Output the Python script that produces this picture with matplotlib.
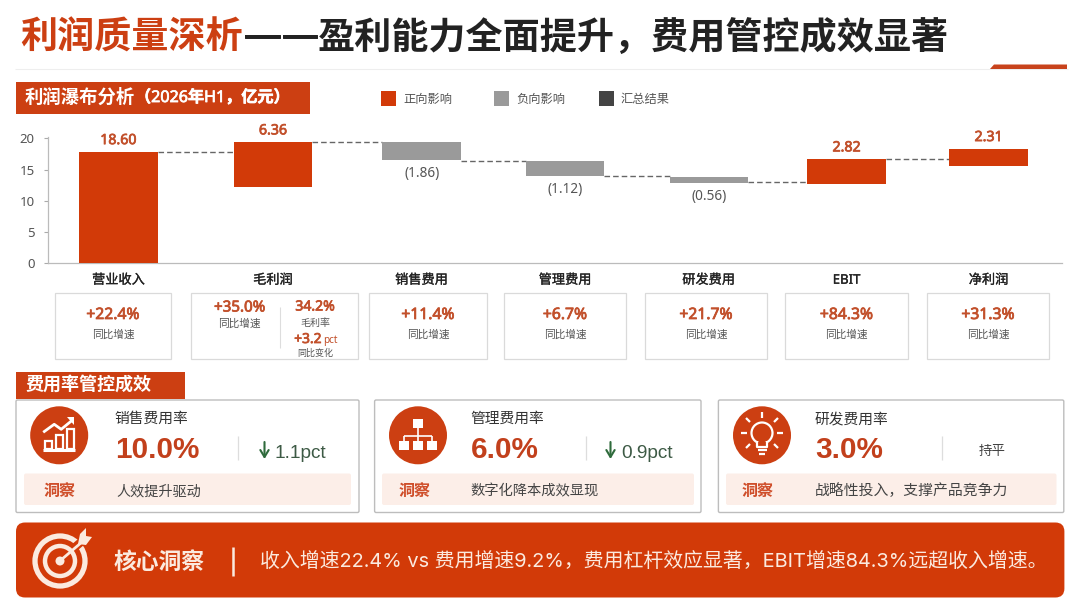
import matplotlib
matplotlib.use("Agg")
import matplotlib.pyplot as plt
import matplotlib.patheffects as pe
from matplotlib.patches import FancyBboxPatch, Rectangle, Circle, Polygon

plt.rcParams['font.family'] = ['Noto Sans', 'Noto Sans CJK SC', 'DejaVu Sans']

# ---------- data ----------
categories = ['营业收入', '毛利润', '销售费用', '管理费用', '研发费用', 'EBIT', '净利润']
bar_bottoms = [0, 12.16, 16.53, 14.02, 12.9, 12.64, 15.57]
bar_tops = [17.8, 19.36, 19.46, 16.32, 13.86, 16.64, 18.29]
bar_kinds = ['pos', 'pos', 'neg', 'neg', 'neg', 'pos', 'pos']
value_labels = ['18.60', '6.36', '(1.86)', '(1.12)', '(0.56)', '2.82', '2.31']
connector_levels = [17.85, 19.4, 16.4, 13.9, 12.96, 16.7]
y_ticks = [0, 5, 10, 15, 20]
legend_labels = ['正向影响', '负向影响', '汇总结果']
card_growth = ['+22.4%', '+35.0%', '+11.4%', '+6.7%', '+21.7%', '+84.3%', '+31.3%']
kpi_names = ['销售费用率', '管理费用率', '研发费用率']
kpi_values = ['10.0%', '6.0%', '3.0%']
kpi_changes = ['1.1pct', '0.9pct', '持平']
kpi_insights = ['人效提升驱动', '数字化降本成效显现', '战略性投入\uff0c支撑产品竞争力']

# ---------- palette ----------
RED = '#D23A08'
DRED = '#CC3F12'
TXT_RED = '#C2502B'
GRAY = '#9A9A9A'
DARK = '#444444'
INK = '#222222'
MID = '#555555'
PALE = '#FCEEE8'

W, H = 1080, 608
fig = plt.figure(figsize=(W / 100, H / 100), dpi=100, facecolor='white')
bg = fig.add_axes([0, 0, 1, 1])
bg.set_xlim(0, W)
bg.set_ylim(H, 0)
bg.axis('off')


def thicken(t, color, w=0.3):
    t.set_path_effects([pe.withStroke(linewidth=w, foreground=color)])
    return t


def T(x, y, s, size, color=INK, ha='left', weight='normal', family=None, **kw):
    if family is not None:
        kw['family'] = family
    return bg.text(x, y, s, fontsize=size, color=color, ha=ha, va='center', weight=weight, **kw)


def N(x, y, s, size, color=TXT_RED, ha='left', w=0.55):
    """Latin figures in a semi-bold look (the Latin family has one weight)."""
    return thicken(T(x, y, s, size, color=color, ha=ha), color, w)


def box(x0, y0, x1, y1, fc='white', ec='none', lw=1.0, r=0.0, z=1):
    if r > 0:
        p = FancyBboxPatch((x0, y0), x1 - x0, y1 - y0, boxstyle=f'round,pad=0,rounding_size={r}',
                           fc=fc, ec=ec, lw=lw, zorder=z)
    else:
        p = Rectangle((x0, y0), x1 - x0, y1 - y0, fc=fc, ec=ec, lw=lw, zorder=z)
    bg.add_patch(p)


def line(xs, ys, color='white', lw=1.0, z=3, **kw):
    bg.plot(xs, ys, color=color, lw=lw, zorder=z, solid_capstyle=kw.pop('cap', 'butt'), **kw)


# ---------- title ----------
T(20, 40, '利润质量深析', 26.7, color=DRED, weight='bold')
thicken(T(244, 37, '——', 26.7, color=INK, weight='bold'), INK, 0.7)
T(318, 40, '盈利能力全面提升\uff0c费用管控成效显著', 26.7, color=INK, weight='bold')
line([15, 1068], [68.5, 68.5], color='#EEEEEE', lw=0.8)
bg.add_patch(Polygon([[990, 69], [994, 64.5], [1067, 64.5], [1067, 69]], fc='#C8431C', ec='none', zorder=3))

# ---------- section header 1 ----------
box(16, 82, 310, 113.5, fc=DRED)
T(25, 98, '利润瀑布分析', 13.2, color='white', weight='bold')
thicken(T(135, 98, '\uff082026年H1\uff0c亿元\uff09', 11.6, color='white', weight='bold'), 'white', 0.5)

# ---------- waterfall ----------
ax = fig.add_axes([47.5 / W, 1 - 263.3 / H, (1062 - 47.5) / W, (263.3 - 137) / H])
ax.patch.set_alpha(0)
category_pos = [0, 1.065, 2.09, 3.08, 4.07, 5.02, 6.0]
bar_w = 0.54
kind_color = {'pos': RED, 'neg': GRAY}
heights = [t - b for t, b in zip(bar_tops, bar_bottoms)]
ax.bar(category_pos, heights, bottom=bar_bottoms, width=bar_w,
       color=[kind_color[k] for k in bar_kinds], zorder=3)
for i, lev in enumerate(connector_levels):
    ax.plot([category_pos[i] + bar_w / 2, category_pos[i + 1] - bar_w / 2], [lev, lev],
            color='#666666', lw=1.0, ls=(0, (4, 2.2)), zorder=2)
for i, lab in enumerate(value_labels):
    if bar_kinds[i] == 'pos':
        a = ax.annotate(lab, (category_pos[i], bar_tops[i]), xytext=(0, 8.2), textcoords='offset points',
                        ha='center', va='center', fontsize=10.2, color=TXT_RED)
        thicken(a, TXT_RED, 0.55)
    else:
        ax.annotate(lab, (category_pos[i], bar_bottoms[i]), xytext=(0, -9.7), textcoords='offset points',
                    ha='center', va='center', fontsize=9.8, color=MID)
ax.set_xlim(-0.49, 6.506)
ax.set_ylim(0, 20.2)
ax.set_yticks(y_ticks)
ax.set_xticks(category_pos)
ax.set_xticklabels(categories, fontsize=9.5, color=INK)
for lab in ax.get_xticklabels():
    thicken(lab, INK, 0.2)
ax.tick_params(axis='x', length=0, pad=7.5)
ax.tick_params(axis='y', length=3.2, width=0.8, color='#AAAAAA', labelcolor=MID, labelsize=9.5, pad=6)
for s in ('top', 'right'):
    ax.spines[s].set_visible(False)
for s in ('left', 'bottom'):
    ax.spines[s].set_color('#BBBBBB')
    ax.spines[s].set_linewidth(0.9)

# legend
legend_swatch_x = [381, 494, 599]
for sx, c, lab in zip(legend_swatch_x, (RED, GRAY, DARK), legend_labels):
    box(sx, 90.5, sx + 15, 105.5, fc=c)
    T(sx + 22, 99, lab, 8.8, color=MID)

# ---------- growth cards ----------
card_x = [(55, 171), (190.5, 357.5), (369, 487), (504, 626), (645, 767), (785, 908), (927, 1049)]
for i, (x0, x1) in enumerate(card_x):
    box(x0, 292.5, x1, 359, fc='white', ec='#DADADA', lw=0.9)
    if i == 1:
        continue
    c = (x0 + x1) / 2
    if i == 0:
        c = 113
    N(c, 315, card_growth[i], 11.3, ha='center')
    T(c, 335, '同比增速', 7.7, color=MID, ha='center')

N(239.7, 308, card_growth[1], 10.9, ha='center')
T(239.7, 324.5, '同比增速', 7.7, color=MID, ha='center')
line([280, 280], [307, 348], color='#DDDDDD', lw=0.8)
N(315, 307, '34.2%', 10.1, ha='center')
T(315, 323, '毛利率', 7.2, color=MID, ha='center')
N(294.2, 339.5, '+3.2', 9.9)
T(323.5, 340.5, 'pct', 7.2, color=TXT_RED)
T(315, 353, '同比变化', 6.5, color=MID, ha='center')

# ---------- section header 2 ----------
box(16, 372, 185, 398.5, fc=DRED)
T(25, 385, '费用率管控成效', 13, color='white', weight='bold')

# ---------- KPI cards ----------
kpi_box = [(16, 359), (374.6, 701), (718.4, 1063.8)]
icon_x = [59.2, 418, 762]
text_x = [114.7, 470.7, 814.8]
div_x = [238.3, 585.8, 942]
arrow_x = [260, 606, None]
strip_x = [(24, 351), (382, 694), (726, 1056.5)]
tag_x = [44, 398.8, 742]
insight_size = [10.2, 10.3, 10.7]
LIB = ['Liberation Sans', 'DejaVu Sans']
for i in range(3):
    box(kpi_box[i][0], 400, kpi_box[i][1], 512.5, fc='white', ec='#BDBDBD', lw=1.0, r=1.5)
    bg.add_patch(Circle((icon_x[i], 435.3), 29, fc=DRED, ec='none', zorder=2))
    T(text_x[i], 419.5, kpi_names[i], 10.6, color='#333333')
    T(text_x[i], 449.5, kpi_values[i], 21.4, color='#C2401C', weight='bold', family=LIB)
    line([div_x[i], div_x[i]], [435.5, 460], color='#DDDDDD', lw=0.9)
    if arrow_x[i] is not None:
        ax_x = arrow_x[i]
        bg.annotate('', xy=(ax_x + 4.5, 459), xytext=(ax_x + 4.5, 442), zorder=4,
                    arrowprops=dict(arrowstyle='->,head_width=0.3,head_length=0.5', color='#2F6B3C', lw=1.5,
                                    shrinkA=0, shrinkB=0))
        T(ax_x + 15, 453.5, kpi_changes[i], 13.7, color='#3D5A45', family=LIB)
    else:
        T(992, 451.5, kpi_changes[i], 9.7, color='#444444', ha='center')
    box(strip_x[i][0], 473.5, strip_x[i][1], 505, fc=PALE, r=2)
    T(tag_x[i], 492, '洞察', 11.5, color='#CF4E2A', weight='bold', zorder=3)
    T(text_x[i] + (1.7 if i == 0 else 0), 492, kpi_insights[i], insight_size[i], color='#444444', zorder=3)

# icon 1: rising columns
cx, cy = icon_x[0], 435.3
for dx, top in ((-11, 6), (0, 0), (11, -6)):
    box(cx + dx - 3.6, cy + top, cx + dx + 3.6, cy + 14, fc='none', ec='white', lw=1.6, z=4)
line([cx - 16, cx + 16], [cy + 15, cy + 15], lw=2.2)
line([cx - 16, cx - 5, cx + 2, cx + 13], [cy - 3, cy - 11, cy - 6, cy - 15], lw=2)
bg.add_patch(Polygon([[cx + 8, cy - 18], [cx + 15, cy - 18], [cx + 15, cy - 10]], fc='white', ec='none', zorder=4))

# icon 2: org tree
cx, cy = icon_x[1], 435.3
box(cx - 4.8, cy - 16.5, cx + 4.8, cy - 7, fc='white', z=4)
for dx in (-14, 0, 14):
    box(cx + dx - 4.8, cy + 5.5, cx + dx + 4.8, cy + 15, fc='white', z=4)
    line([cx + dx, cx + dx], [cy + 0.5, cy + 6], lw=1.2)
line([cx, cx], [cy - 7, cy + 0.5], lw=1.2)
line([cx - 14, cx + 14], [cy + 0.5, cy + 0.5], lw=1.2)

# icon 3: light bulb
cx, cy = icon_x[2], 434
bg.add_patch(Circle((cx, cy - 1), 10.5, fc='none', ec='white', lw=1.6, zorder=4))
box(cx - 5, cy + 8, cx + 5, cy + 13, fc=DRED, z=5)
line([cx - 5, cx - 5, cx + 5, cx + 5], [cy + 7, cy + 12.5, cy + 12.5, cy + 7], lw=1.6, z=6)
line([cx - 4.5, cx + 4.5], [cy + 16, cy + 16], lw=1.6)
line([cx - 2.8, cx + 2.8], [cy + 19.5, cy + 19.5], lw=1.6)
for (x0, y0, x1, y1) in ((0, -16, 0, -22), (-12, -12, -16, -16), (12, -12, 16, -16),
                         (-15, -1, -21, -1), (15, -1, 21, -1), (-12, 10, -16, 14), (12, 10, 16, 14)):
    line([cx + x0, cx + x1], [cy + y0, cy + y1], lw=1.6)

# ---------- bottom banner ----------
box(16, 522.5, 1064.4, 597.5, fc=RED, r=9)
cx, cy = 60, 561
CREAM = '#FBEADF'
bg.add_patch(Circle((cx, cy), 25, fc='none', ec=CREAM, lw=3.8, zorder=3))
bg.add_patch(Circle((cx, cy), 15, fc='none', ec=CREAM, lw=3.2, zorder=3))
bg.add_patch(Circle((cx, cy), 4.5, fc=CREAM, ec='none', zorder=3))
line([cx + 14, cx + 28], [cy - 13, cy - 25], color=RED, lw=6, z=4)
line([cx + 1, cx + 22], [cy - 1, cy - 19], color=CREAM, lw=2.0, z=5)
bg.add_patch(Polygon([[cx + 18, cy - 17], [cx + 20, cy - 27], [cx + 26, cy - 33], [cx + 26, cy - 25],
                      [cx + 32, cy - 24], [cx + 26, cy - 16]], fc=CREAM, ec='none', zorder=5))
T(114, 562.5, '核心洞察', 16.4, color=CREAM, weight='bold', zorder=4)
line([232.8, 232.8], [547, 576], color=CREAM, lw=1.8, z=4)
main = T(260, 562, '收入增速22.4% vs 费用增速9.2%\uff0c费用杠杆效应显著\uff0cEBIT增速84.3%远超收入增速。',
         14.35, color=CREAM, zorder=4, family=['Inter', 'Noto Sans CJK SC'])

fig.savefig('out.png', dpi=100, facecolor='white')
